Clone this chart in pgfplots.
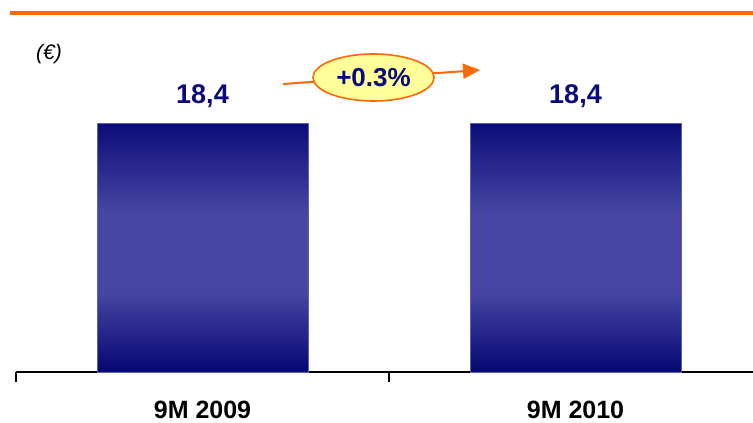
\documentclass[border=0pt]{standalone}
\usepackage{pgfplots}
\pgfplotsset{compat=1.18}
\usepackage{fontspec}
\setmainfont{Liberation Sans}
\usetikzlibrary{arrows.meta}

\definecolor{barnavy}{RGB}{12,12,122}
\definecolor{barmid}{RGB}{70,70,162}
\definecolor{barbot}{RGB}{6,6,116}
\definecolor{baredge}{RGB}{96,96,176}
\definecolor{labnavy}{RGB}{10,10,124}
\definecolor{accent}{RGB}{255,104,8}
\definecolor{bubble}{RGB}{255,255,153}

% bar fill: dark at both ends, a broad lighter band across the middle
\pgfdeclareverticalshading{barshade}{100bp}{%
  color(0bp)=(barbot); color(25bp)=(barbot); color(41bp)=(barmid);
  color(57bp)=(barmid); color(75bp)=(barnavy); color(100bp)=(barnavy)}

\begin{document}
\begin{tikzpicture}[x=1pt,y=1pt]
  % orange rule across the top
  \draw[accent, line width=4.5pt] (10,410) -- (760,410);

  % currency note
  \node[font=\fontsize{21}{24}\selectfont\itshape] at (49,369) {(€)};

  \begin{axis}[
    at={(16pt,51pt)}, anchor=south west,
    scale only axis,
    width=746pt, height=338.3pt,
    xmin=-0.5, xmax=1.5,
    ymin=0, ymax=25,
    axis x line=bottom,
    axis y line=none,
    x axis line style={-, line width=1.6pt, black},
    xtick={0,1},
    xticklabels={9M 2009, 9M 2010},
    major tick length=0pt,
    minor xtick={-0.5,0.5,1.5},
    minor tick length=10pt,
    tick align=outside,
    minor tick style={line width=1.6pt, black},
    xticklabel style={font=\fontsize{25}{28}\selectfont\bfseries, anchor=base, yshift=-47pt},
    /pgf/number format/assume math mode=true,
    /pgf/number format/use comma,
    /pgf/number format/fixed,
    /pgf/number format/fixed zerofill,
    /pgf/number format/precision=1,
    ybar, bar width=211pt, bar shift=0pt,
    nodes near coords,
    nodes near coords style={font=\fontsize{27}{30}\selectfont\bfseries, text=labnavy, anchor=base, yshift=20pt},
    clip=false,
  ]
    \addplot[draw=baredge, line width=0.6pt, shade, shading=barshade]
      coordinates {(0,18.4)};
    \addplot[draw=baredge, line width=0.6pt, shade, shading=barshade]
      coordinates {(1,18.4)};
  \end{axis}

  % growth arrow with its bubble
  \draw[accent, line width=2pt, -{Triangle[length=17pt,width=15pt]}] (283,339) -- (480,353);
  \filldraw[draw=accent, fill=bubble, line width=1.6pt] (373.5,345.5) ellipse (60.5 and 23.5);
  \node[font=\fontsize{26}{29}\selectfont\bfseries, text=labnavy] at (373.5,345.5) {+0.3\%};

  \pgfresetboundingbox
  \path[use as bounding box] (0,0) rectangle (753,423);
\end{tikzpicture}
\end{document}
